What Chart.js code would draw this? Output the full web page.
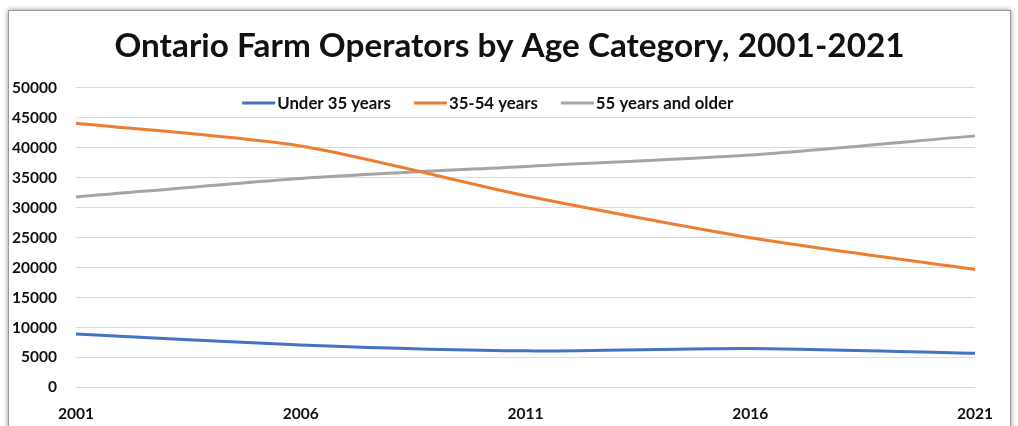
<!doctype html>
<html>
<head>
<meta charset="utf-8">
<title>Ontario Farm Operators by Age Category, 2001-2021</title>
<style>
  body { margin: 0; background: #fff; overflow: hidden; }
  #frame {
    position: absolute; left: 8px; top: 10px;
    width: 1001px; height: 440px;
    border: 1px solid #9a9a9a;
    box-shadow: 0 0 5px rgba(0,0,0,0.45);
    background: #fff;
  }
  #wrap { position: relative; width: 1001px; height: 432px; }
</style>
</head>

<body>
  <div id="frame"><div id="wrap"><canvas id="myChart"></canvas></div></div>
  <script src="https://cdn.jsdelivr.net/npm/chart.js@4.4.1/dist/chart.umd.min.js"></script>
  <script>
    // census years and operator counts per age group
    const years = ['2001', '2006', '2011', '2016', '2021'];
    const under35 = [8900, 7100, 6100, 6500, 5700];
    const age35to54 = [44100, 40300, 32000, 25000, 19700];
    const age55plus = [31800, 34900, 36900, 38800, 42000];
    const yTicks = [0, 5000, 10000, 15000, 20000, 25000, 30000, 35000, 40000, 45000, 50000];

    const FONT = 'Lato, "Open Sans", sans-serif';

    function series(label, data, color) {
      return {
        label: label,
        data: data,
        borderColor: color,
        backgroundColor: color,
        borderWidth: 3,
        pointRadius: 0,
        tension: 0.25,
        fill: false
      };
    }

    // horizontal legend drawn inside the top band of the plot
    const innerLegend = {
      id: 'innerLegend',
      afterDatasetsDraw: function (chart) {
        const c = chart.ctx;
        const area = chart.chartArea;
        const lineLen = 33, gap = 2, spacing = 23;
        c.save();
        c.font = 'bold 16.8px ' + FONT;
        c.textBaseline = 'middle';
        const items = chart.data.datasets.map(function (ds) {
          return { ds: ds, w: c.measureText(ds.label).width };
        });
        let total = 0;
        items.forEach(function (it, i) {
          total += lineLen + gap + it.w + (i < items.length - 1 ? spacing : 0);
        });
        let x = area.left + area.width * 0.458 - total / 2;
        const y = area.top + 15;
        items.forEach(function (it) {
          c.strokeStyle = it.ds.borderColor;
          c.lineWidth = 3;
          c.beginPath();
          c.moveTo(x, y);
          c.lineTo(x + lineLen, y);
          c.stroke();
          x += lineLen + gap;
          c.fillStyle = '#111';
          c.fillText(it.ds.label, x, y + 1);
          x += it.w + spacing;
        });
        c.restore();
      }
    };

    const ctx = document.getElementById('myChart');
    const myChart = new Chart(ctx, {
      type: 'line',
      data: {
        labels: years,
        datasets: [
          series('Under 35 years', under35, '#4472C4'),
          series('35-54 years', age35to54, '#ED7D31'),
          series('55 years and older', age55plus, '#A5A5A5')
        ]
      },
      plugins: [innerLegend],
      options: {
        responsive: true,
        maintainAspectRatio: false,
        animation: false,
        layout: { padding: { left: 0, right: 0, top: 0, bottom: 3 } },
        plugins: {
          title: {
            display: true,
            text: 'Ontario Farm Operators by Age Category, 2001-2021',
            color: '#111',
            font: { family: FONT, size: 33.3, weight: 'bold' },
            padding: { top: 15, bottom: 22 }
          },
          legend: { display: false },
          tooltip: { enabled: false }
        },
        scales: {
          x: {
            offset: false,
            grid: { display: false, drawTicks: false },
            border: { display: false },
            ticks: {
              color: '#111',
              padding: 17,
              maxRotation: 0,
              font: { family: FONT, size: 15.5, weight: 'bold' }
            }
          },
          y: {
            min: 0,
            max: 50000,
            afterFit: function (scale) { scale.width = 67; },
            afterBuildTicks: function (scale) {
              scale.ticks = yTicks.map(function (v) { return { value: v }; });
            },
            grid: { color: '#d9d9d9', lineWidth: 1, drawTicks: false },
            border: { display: false },
            ticks: {
              color: '#111',
              padding: 19,
              font: { family: FONT, size: 15.5, weight: 'bold' },
              callback: function (v) { return String(v); }
            }
          },
          // empty right-hand margin so the last year label fits
          yRight: {
            position: 'right',
            min: 0,
            max: 50000,
            afterFit: function (scale) { scale.width = 28; },
            grid: { display: false, drawTicks: false },
            border: { display: false },
            ticks: { display: false }
          }
        }
      }
    });
  </script>
</body>
</html>
